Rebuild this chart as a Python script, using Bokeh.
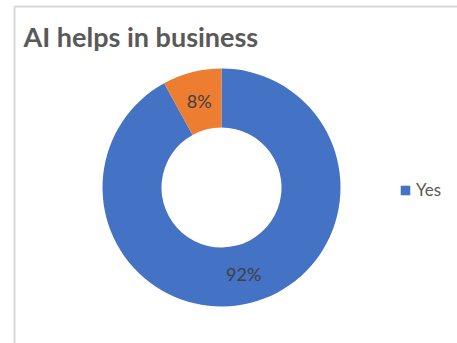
import numpy as np
from bokeh.plotting import figure
from bokeh.models import ColumnDataSource, Range1d, Legend, LegendItem
from bokeh.core.properties import value
from bokeh.embed import file_html
from bokeh.resources import INLINE

categories = ["Yes", "No"]
shares = [92, 8]
labels = ["92%", "8%"]
colors = ["#4472C4", "#ED7D31"]

W, H = 457, 343
cx, cy = 221, H - 187
r_out, r_in = 119, 60

vals = np.array(shares, dtype=float)
frac = vals / vals.sum()
cum = np.concatenate([[0], np.cumsum(frac)])
start = np.pi / 2 - cum[:-1] * 2 * np.pi
end = np.pi / 2 - cum[1:] * 2 * np.pi
mid = (start + end) / 2
rm = (r_out + r_in) / 2

src = ColumnDataSource(dict(
    cat=categories, start=start, end=end, color=colors, label=labels,
    lx=cx + rm * np.cos(mid), ly=cy + rm * np.sin(mid),
))

p = figure(width=W, height=H, output_backend="svg", toolbar_location=None,
           x_range=Range1d(0, W), y_range=Range1d(0, H), min_border=0)
p.axis.visible = False
p.grid.visible = False
p.outline_line_color = None
p.background_fill_color = "white"
p.border_fill_color = "white"

# chart area border
p.quad(left=[14], right=[W + 20], top=[H - 6], bottom=[-20],
       fill_color=None, line_color="#D9D9D9", line_width=2)

r = p.annular_wedge(x=cx, y=cy, inner_radius=r_in, outer_radius=r_out,
                    start_angle="start", end_angle="end", direction="clock",
                    fill_color="color", line_color=None, source=src)

p.text(x="lx", y="ly", text="label", source=src, text_align="center",
       text_baseline="middle", text_font=value("Lato"), text_font_size="18px",
       text_color="#404040")

p.text(x=[23], y=[H - 36], text=["AI helps in business"], text_align="left",
       text_baseline="middle", text_font=value("Lato"), text_font_style="bold",
       text_font_size="27px", text_color="#595959")

legend = Legend(items=[LegendItem(label=categories[0], renderers=[r], index=0)],
                location=(399, H - 200), border_line_color=None,
                background_fill_alpha=0, label_text_font="Lato",
                label_text_font_size="17px", label_text_color="#595959",
                glyph_width=12, glyph_height=12, padding=0, margin=0,
                label_standoff=5)
p.add_layout(legend)

open("out.html", "w").write(file_html(p, INLINE))
